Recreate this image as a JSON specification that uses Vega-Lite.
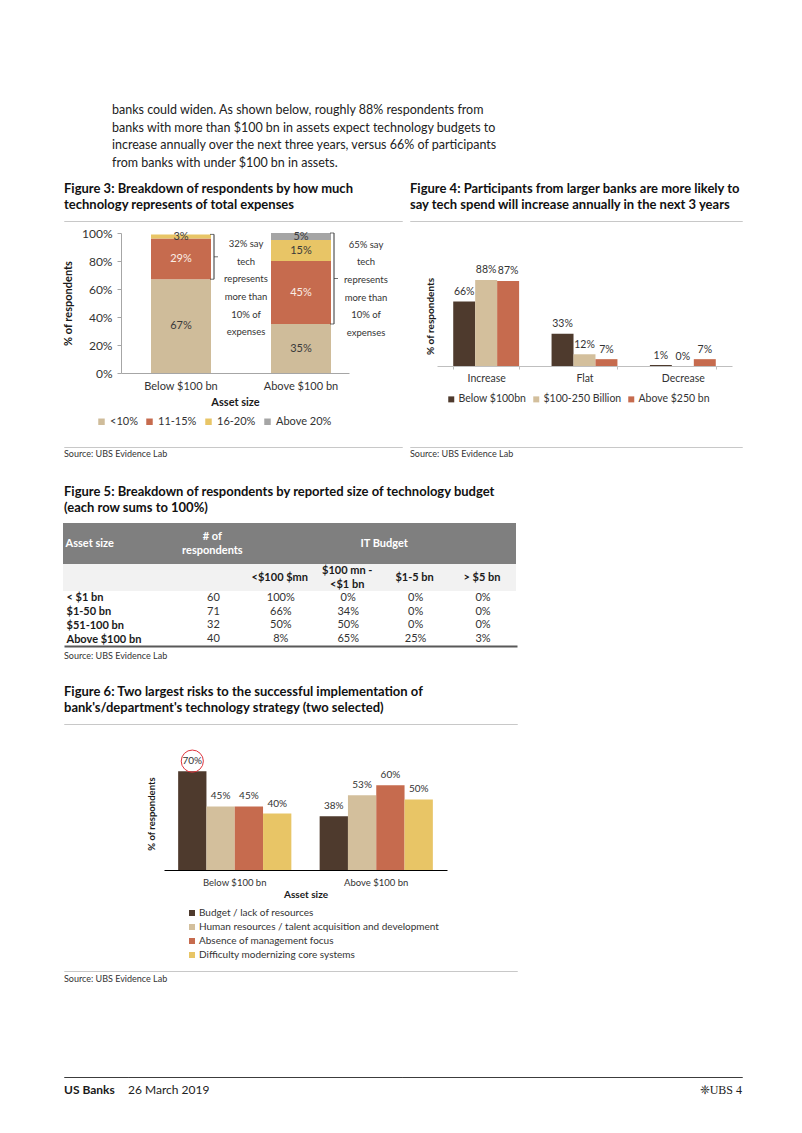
{
  "$schema": "https://vega.github.io/schema/vega-lite/v6.json",
  "background": "white",
  "padding": {"left": 62, "top": 0, "right": 20, "bottom": 20},
  "spacing": 0,
  "resolve": {"scale": {"color": "independent", "xOffset": "independent"}, "legend": {"color": "independent"}},
  "config": {
    "font": "Lato",
    "view": {"stroke": null},
    "axis": {"grid": false, "labelOverlap": false, "labelColor": "#333333", "titleColor": "#1a1a1a", "labelFont": "Lato", "titleFont": "Lato"},
    "legend": {"labelFont": "Lato", "labelColor": "#333333"},
    "title": {"font": "Lato", "anchor": "start", "frame": "group", "color": "#111111"},
    "text": {"font": "Lato"}
  },
  "vconcat": [
    {"hconcat": [
      {"width": 0.01, "height": 176, "data": {"values": []}, "mark": "text"},
      {"width": 678, "height": 100, "data": {"values": []}, "mark": "text",
       "title": {"text": ["banks could widen. As shown below, roughly 88% respondents from", "banks with more than $100 bn in assets expect technology budgets to", "increase annually over the next three years, versus 66% of participants", "from banks with under $100 bn in assets."], "orient": "bottom", "offset": 3.9, "dx": 48, "fontSize": 12.5, "fontWeight": "normal", "lineHeight": 17.7, "color": "#222222"}}
    ], "spacing": 0, "bounds": "flush"},
    {"hconcat": [
      {"width": 0.01, "height": 44, "data": {"values": []}, "mark": "text"},
      {"width": 338, "height": 0.01, "data": {"values": []}, "mark": "text",
       "title": {"text": ["Figure 3: Breakdown of respondents by how much", "technology represents of total expenses"], "orient": "bottom", "offset": 6.6, "fontSize": 13, "fontWeight": "bold", "lineHeight": 16.8}},
      {"width": 8, "height": 0.01, "data": {"values": []}, "mark": "text"},
      {"width": 332, "height": 0.01, "data": {"values": []}, "mark": "text",
       "title": {"text": ["Figure 4: Participants from larger banks are more likely to", "say tech spend will increase annually in the next 3 years"], "orient": "bottom", "offset": 6.6, "fontSize": 13, "fontWeight": "bold", "lineHeight": 16.8}}
    ], "spacing": 0, "bounds": "flush"},
    {"hconcat": [
      {"width": 0.01, "height": 6, "data": {"values": []}, "mark": "text"},
      {"width": 338, "height": 0.01, "data": {"values": []}, "mark": "text", "view": {"stroke": "#c8c8c8", "strokeWidth": 1}},
      {"width": 8, "height": 0.01, "data": {"values": []}, "mark": "text"},
      {"width": 332, "height": 0.01, "data": {"values": []}, "mark": "text", "view": {"stroke": "#c8c8c8", "strokeWidth": 1}}
    ], "spacing": 0, "bounds": "flush"},
    {"hconcat": [
      {"width": 0.01, "height": 213, "data": {"values": []}, "mark": "text"},
      {"width": 57, "height": 0.01, "data": {"values": []}, "mark": "text"},
      {
        "width": 228, "height": 140,
        "data": {"values": [
          {"asset": "Below $100 bn", "share": "<10%", "pct": 0.67},
          {"asset": "Below $100 bn", "share": "11-15%", "pct": 0.29},
          {"asset": "Below $100 bn", "share": "16-20%", "pct": 0.03},
          {"asset": "Above $100 bn", "share": "<10%", "pct": 0.35},
          {"asset": "Above $100 bn", "share": "11-15%", "pct": 0.45},
          {"asset": "Above $100 bn", "share": "16-20%", "pct": 0.15},
          {"asset": "Above $100 bn", "share": "Above 20%", "pct": 0.05}
        ]},
        "resolve": {"scale": {"color": "independent"}, "legend": {"color": "independent"}},
        "layer": [
          {
            "transform": [{"window": [{"op": "row_number", "as": "rn"}]}],
            "mark": {"type": "bar"},
            "encoding": {
              "x": {"field": "asset", "type": "nominal", "sort": ["Below $100 bn", "Above $100 bn"], "scale": {"paddingInner": 0.5, "paddingOuter": 0.2, "align": 0.625},
                    "axis": {"title": "Asset size", "labelAngle": 0, "ticks": false, "domainColor": "#a6a6a6", "labelFontSize": 11, "labelPadding": 7, "titleFontSize": 11, "titleFontWeight": "bold", "titlePadding": 5}},
              "y": {"field": "pct", "type": "quantitative", "stack": "zero", "scale": {"domain": [0, 1]},
                    "axis": {"values": [0, 0.2, 0.4, 0.6, 0.8, 1], "tickCount": 12, "format": ".0%", "labelOverlap": false, "domainColor": "#a6a6a6", "tickColor": "#a6a6a6", "tickSize": 4, "labelFontSize": 12, "labelPadding": 5, "title": "% of respondents", "titleFontSize": 11, "titleFontWeight": "bold", "titlePadding": 8}},
              "order": {"field": "rn", "type": "quantitative"},
              "color": {"field": "share", "type": "nominal", "sort": ["<10%", "11-15%", "16-20%", "Above 20%"],
                        "scale": {"domain": ["<10%", "11-15%", "16-20%", "Above 20%"], "range": ["#cfbc9a", "#c66b4e", "#e8c566", "#a5a5a5"]},
                        "legend": {"orient": "none", "legendX": -25, "legendY": 183, "direction": "horizontal", "title": null, "symbolType": "square", "symbolSize": 42, "symbolStrokeWidth": 0, "labelFontSize": 11, "labelOffset": 3, "columnPadding": 6}}
            }
          },
          {
            "transform": [{"window": [{"op": "row_number", "as": "rn"}]}],
            "mark": {"type": "text", "fontSize": 11, "baseline": "middle"},
            "encoding": {
              "x": {"field": "asset", "type": "nominal", "sort": ["Below $100 bn", "Above $100 bn"]},
              "y": {"field": "pct", "type": "quantitative", "stack": "zero", "bandPosition": 0.5},
              "order": {"field": "rn", "type": "quantitative"},
              "color": {"field": "share", "type": "nominal", "sort": ["<10%", "11-15%", "16-20%", "Above 20%"],
                        "scale": {"domain": ["<10%", "11-15%", "16-20%", "Above 20%"], "range": ["#3a3a3a", "#fbeee6", "#3a3a3a", "#3a3a3a"]}, "legend": null},
              "text": {"field": "pct", "type": "quantitative", "format": ".0%"}
            }
          },
          {
            "data": {"values": [
              {"asset": "Below $100 bn", "lo": 0.67, "hi": 0.99, "mid": 0.83, "ny": 0.92, "note": ["32% say", "tech", "represents", "more than", "10% of", "expenses"]},
              {"asset": "Above $100 bn", "lo": 0.35, "hi": 1.0, "mid": 0.675, "ny": 0.915, "note": ["65% say", "tech", "represents", "more than", "10% of", "expenses"]}
            ]},
            "layer": [
              {"mark": {"type": "rule", "xOffset": 3, "color": "#333333", "strokeWidth": 1},
               "encoding": {"x": {"field": "asset", "type": "nominal", "sort": ["Below $100 bn", "Above $100 bn"], "bandPosition": 1}, "y": {"field": "lo", "type": "quantitative"}, "y2": {"field": "hi"}}},
              {"mark": {"type": "tick", "orient": "horizontal", "size": 4, "thickness": 1, "xOffset": 31, "color": "#333333"},
               "encoding": {"x": {"field": "asset", "type": "nominal", "sort": ["Below $100 bn", "Above $100 bn"]}, "y": {"field": "lo", "type": "quantitative"}}},
              {"mark": {"type": "tick", "orient": "horizontal", "size": 4, "thickness": 1, "xOffset": 31, "color": "#333333"},
               "encoding": {"x": {"field": "asset", "type": "nominal", "sort": ["Below $100 bn", "Above $100 bn"]}, "y": {"field": "hi", "type": "quantitative"}}},
              {"mark": {"type": "tick", "orient": "horizontal", "size": 4, "thickness": 1, "xOffset": 35, "color": "#333333"},
               "encoding": {"x": {"field": "asset", "type": "nominal", "sort": ["Below $100 bn", "Above $100 bn"]}, "y": {"field": "mid", "type": "quantitative"}}},
              {"mark": {"type": "text", "xOffset": 35, "fontSize": 9.5, "lineHeight": 17.6, "color": "#333333", "baseline": "middle"},
               "encoding": {"x": {"field": "asset", "type": "nominal", "sort": ["Below $100 bn", "Above $100 bn"], "bandPosition": 1}, "y": {"field": "ny", "type": "quantitative"}, "text": {"field": "note"}}}
            ]
          }
        ]
      },
      {"width": 88, "height": 0.01, "data": {"values": []}, "mark": "text"},
      {
        "width": 295, "height": 133,
        "data": {"values": [
          {"cat": "Increase", "grp": "Below $100bn", "pct": 0.66},
          {"cat": "Increase", "grp": "$100-250 Billion", "pct": 0.88},
          {"cat": "Increase", "grp": "Above $250 bn", "pct": 0.87},
          {"cat": "Flat", "grp": "Below $100bn", "pct": 0.33},
          {"cat": "Flat", "grp": "$100-250 Billion", "pct": 0.12},
          {"cat": "Flat", "grp": "Above $250 bn", "pct": 0.07},
          {"cat": "Decrease", "grp": "Below $100bn", "pct": 0.01},
          {"cat": "Decrease", "grp": "$100-250 Billion", "pct": 0.0},
          {"cat": "Decrease", "grp": "Above $250 bn", "pct": 0.07}
        ]},
        "resolve": {"scale": {"color": "independent"}, "legend": {"color": "independent"}},
        "encoding": {
          "x": {"field": "cat", "type": "nominal", "sort": ["Increase", "Flat", "Decrease"], "scale": {"paddingInner": 0.33, "paddingOuter": 0.165},
                "axis": {"title": null, "labelAngle": 0, "domainColor": "#bfbfbf", "tickColor": "#bfbfbf", "tickBand": "extent", "tickSize": 3, "labelFontSize": 10.5, "labelPadding": 4}},
          "xOffset": {"field": "grp", "type": "nominal", "sort": ["Below $100bn", "$100-250 Billion", "Above $250 bn"], "scale": {"domain": ["Below $100bn", "$100-250 Billion", "Above $250 bn"], "paddingInner": 0, "paddingOuter": 0}},
          "y": {"field": "pct", "type": "quantitative", "scale": {"domain": [0, 1.36]},
                "axis": {"title": "% of respondents", "labels": false, "ticks": false, "domain": false, "titleFontSize": 10, "titleFontWeight": "bold", "titleX": -2, "titleY": 83}}
        },
        "layer": [
          {"mark": {"type": "bar"},
           "encoding": {"color": {"field": "grp", "type": "nominal", "sort": ["Below $100bn", "$100-250 Billion", "Above $250 bn"],
             "scale": {"domain": ["Below $100bn", "$100-250 Billion", "Above $250 bn"], "range": ["#4e3a2d", "#d3bf9c", "#c66b4e"]},
             "legend": {"orient": "none", "legendX": 9, "legendY": 161, "direction": "horizontal", "title": null, "symbolType": "square", "symbolSize": 36, "symbolStrokeWidth": 0, "labelFontSize": 10.5, "labelOffset": 2, "columnPadding": 4}}}},
          {"mark": {"type": "text", "baseline": "bottom", "dy": -4.5, "fontSize": 10.5, "color": "#333333"},
           "encoding": {"text": {"field": "pct", "type": "quantitative", "format": ".0%"}}}
        ]
      }
    ], "spacing": 0, "bounds": "flush", "resolve": {"scale": {"color": "independent", "xOffset": "independent"}, "legend": {"color": "independent"}}},
    {"hconcat": [
      {"width": 0.01, "height": 34, "data": {"values": []}, "mark": "text"},
      {"width": 338, "height": 0.01, "data": {"values": []}, "mark": "text", "view": {"stroke": "#c8c8c8", "strokeWidth": 1},
       "title": {"text": "Source:  UBS Evidence Lab", "orient": "bottom", "offset": 3.1, "fontSize": 9, "fontWeight": "normal", "color": "#333333"}},
      {"width": 8, "height": 0.01, "data": {"values": []}, "mark": "text"},
      {"width": 332, "height": 0.01, "data": {"values": []}, "mark": "text", "view": {"stroke": "#c8c8c8", "strokeWidth": 1},
       "title": {"text": "Source:  UBS Evidence Lab", "orient": "bottom", "offset": 3.1, "fontSize": 9, "fontWeight": "normal", "color": "#333333"}}
    ], "spacing": 0, "bounds": "flush"},
    {"hconcat": [
      {"width": 0.01, "height": 42, "data": {"values": []}, "mark": "text"},
      {"width": 453, "height": 0.01, "data": {"values": []}, "mark": "text",
       "title": {"text": ["Figure 5: Breakdown of respondents by reported size of technology budget", "(each row sums to 100%)"], "orient": "bottom", "offset": 5.3, "fontSize": 13, "fontWeight": "bold", "lineHeight": 15.5}}
    ], "spacing": 0, "bounds": "flush"},
    {
      "width": 453, "height": 41,
      "view": {"fill": "#7f7f7f", "stroke": null},
      "data": {"values": [{"h": "Asset size"}]},
      "encoding": {"y": {"field": "h", "type": "nominal", "scale": {"paddingInner": 0, "paddingOuter": 0},
        "axis": {"orient": "left", "labelAlign": "left", "labelPadding": -2, "tickSize": 0, "ticks": false, "domain": false, "title": null, "labelColor": "#ffffff", "labelFontWeight": "bold", "labelFontSize": 11}}},
      "layer": [
        {"mark": {"type": "text", "text": ["# of", "respondents"], "fontWeight": "bold", "color": "#ffffff", "fontSize": 11, "lineHeight": 14, "baseline": "middle", "dy": -7},
         "encoding": {"x": {"datum": "# of respondents", "type": "nominal", "scale": {"type": "point", "domain": ["Asset size", "# of respondents", "<$100 $mn", "$100 mn - <$1 bn", "$1-5 bn", "> $5 bn"], "padding": 0.86, "align": 0.707}, "axis": null}}},
        {"mark": {"type": "text", "text": "IT Budget", "dx": 37, "fontWeight": "bold", "color": "#ffffff", "fontSize": 11, "baseline": "middle"},
         "encoding": {"x": {"datum": "$100 mn - <$1 bn", "type": "nominal", "scale": {"type": "point", "domain": ["Asset size", "# of respondents", "<$100 $mn", "$100 mn - <$1 bn", "$1-5 bn", "> $5 bn"], "padding": 0.86, "align": 0.707}, "axis": null}}}
      ]
    },
    {
      "width": 453, "height": 27,
      "view": {"fill": "#f2f2f2", "stroke": null},
      "data": {"values": [
        {"col": "<$100 $mn", "label": ["<$100 $mn"]},
        {"col": "$100 mn - <$1 bn", "label": ["$100 mn -", "<$1 bn"]},
        {"col": "$1-5 bn", "label": ["$1-5 bn"]},
        {"col": "> $5 bn", "label": ["> $5 bn"]}
      ]},
      "layer": [
        {"transform": [{"filter": {"field": "col", "equal": "$100 mn - <$1 bn"}}],
         "mark": {"type": "text", "fontWeight": "bold", "color": "#1a1a1a", "fontSize": 11, "lineHeight": 13.5, "baseline": "middle", "dy": -6.5},
         "encoding": {
           "x": {"field": "col", "type": "nominal", "scale": {"type": "point", "domain": ["Asset size", "# of respondents", "<$100 $mn", "$100 mn - <$1 bn", "$1-5 bn", "> $5 bn"], "padding": 0.86, "align": 0.707}, "axis": null},
           "text": {"field": "label"}}},
        {"transform": [{"filter": {"not": {"field": "col", "equal": "$100 mn - <$1 bn"}}}],
         "mark": {"type": "text", "fontWeight": "bold", "color": "#1a1a1a", "fontSize": 11, "baseline": "middle"},
         "encoding": {
           "x": {"field": "col", "type": "nominal", "scale": {"type": "point", "domain": ["Asset size", "# of respondents", "<$100 $mn", "$100 mn - <$1 bn", "$1-5 bn", "> $5 bn"], "padding": 0.86, "align": 0.707}, "axis": null},
           "text": {"field": "label"}}}
      ]
    },
    {"hconcat": [
      {"width": 0.01, "height": 90, "data": {"values": []}, "mark": "text"},
      {
        "width": 453, "height": 55,
        "data": {"values": [
          {"asset": "< $1 bn", "n": 60, "<$100 $mn": 1.0, "$100 mn - <$1 bn": 0.0, "$1-5 bn": 0.0, "> $5 bn": 0.0},
          {"asset": "$1-50 bn", "n": 71, "<$100 $mn": 0.66, "$100 mn - <$1 bn": 0.34, "$1-5 bn": 0.0, "> $5 bn": 0.0},
          {"asset": "$51-100 bn", "n": 32, "<$100 $mn": 0.5, "$100 mn - <$1 bn": 0.5, "$1-5 bn": 0.0, "> $5 bn": 0.0},
          {"asset": "Above $100 bn", "n": 40, "<$100 $mn": 0.08, "$100 mn - <$1 bn": 0.65, "$1-5 bn": 0.25, "> $5 bn": 0.03}
        ]},
        "title": {"text": "Source: UBS Evidence Lab", "orient": "bottom", "offset": 5.6, "fontSize": 9, "fontWeight": "normal", "color": "#333333"},
        "encoding": {"y": {"field": "asset", "type": "nominal", "sort": ["< $1 bn", "$1-50 bn", "$51-100 bn", "Above $100 bn"], "scale": {"paddingInner": 0, "paddingOuter": 0},
          "axis": {"orient": "left", "labelAlign": "left", "labelPadding": -2, "tickSize": 0, "ticks": false, "domain": false, "title": null, "labelColor": "#1a1a1a", "labelFontWeight": "bold", "labelFontSize": 11}}},
        "layer": [
          {"transform": [{"fold": ["<$100 $mn", "$100 mn - <$1 bn", "$1-5 bn", "> $5 bn"], "as": ["col", "v"]}],
           "mark": {"type": "text", "fontSize": 11, "color": "#333333", "baseline": "middle"},
           "encoding": {
             "x": {"field": "col", "type": "nominal", "scale": {"type": "point", "domain": ["Asset size", "# of respondents", "<$100 $mn", "$100 mn - <$1 bn", "$1-5 bn", "> $5 bn"], "padding": 0.86, "align": 0.707},
                   "axis": {"orient": "bottom", "labels": false, "ticks": false, "domainColor": "#595959", "domainWidth": 2, "title": null}},
             "text": {"field": "v", "type": "quantitative", "format": ".0%"}}},
          {"mark": {"type": "text", "fontSize": 11, "color": "#333333", "baseline": "middle"},
           "encoding": {
             "x": {"datum": "# of respondents", "type": "nominal", "scale": {"type": "point", "domain": ["Asset size", "# of respondents", "<$100 $mn", "$100 mn - <$1 bn", "$1-5 bn", "> $5 bn"], "padding": 0.86, "align": 0.707}},
             "text": {"field": "n", "type": "quantitative"}}}
        ]
      }
    ], "spacing": 0, "bounds": "flush"},
    {"hconcat": [
      {"width": 0.01, "height": 42, "data": {"values": []}, "mark": "text"},
      {"width": 453, "height": 0.01, "data": {"values": []}, "mark": "text",
       "title": {"text": ["Figure 6: Two largest risks to the successful implementation of", "bank's/department's technology strategy (two selected)"], "orient": "bottom", "offset": 5.3, "fontSize": 13, "fontWeight": "bold", "lineHeight": 16}}
    ], "spacing": 0, "bounds": "flush"},
    {"hconcat": [
      {"width": 0.01, "height": 24, "data": {"values": []}, "mark": "text"},
      {"width": 453, "height": 0.01, "data": {"values": []}, "mark": "text", "view": {"stroke": "#c8c8c8", "strokeWidth": 1}}
    ], "spacing": 0, "bounds": "flush"},
    {"hconcat": [
      {"width": 0.01, "height": 213, "data": {"values": []}, "mark": "text"},
      {"width": 100, "height": 0.01, "data": {"values": []}, "mark": "text"},
      {
        "width": 283, "height": 113,
        "data": {"values": [
          {"asset": "Below $100 bn", "risk": "Budget / lack of resources", "pct": 0.70},
          {"asset": "Below $100 bn", "risk": "Human resources / talent acquisition and development", "pct": 0.45},
          {"asset": "Below $100 bn", "risk": "Absence of management focus", "pct": 0.45},
          {"asset": "Below $100 bn", "risk": "Difficulty modernizing core systems", "pct": 0.40},
          {"asset": "Above $100 bn", "risk": "Budget / lack of resources", "pct": 0.38},
          {"asset": "Above $100 bn", "risk": "Human resources / talent acquisition and development", "pct": 0.53},
          {"asset": "Above $100 bn", "risk": "Absence of management focus", "pct": 0.60},
          {"asset": "Above $100 bn", "risk": "Difficulty modernizing core systems", "pct": 0.50}
        ]},
        "resolve": {"scale": {"color": "independent"}, "legend": {"color": "independent"}},
        "encoding": {
          "x": {"field": "asset", "type": "nominal", "sort": ["Below $100 bn", "Above $100 bn"], "scale": {"paddingInner": 0.2, "paddingOuter": 0.1},
                "axis": {"title": "Asset size", "labelAngle": 0, "ticks": false, "domainColor": "#000000", "labelFontSize": 9.5, "labelPadding": 7, "titleFontSize": 10, "titleFontWeight": "bold", "titlePadding": 3}},
          "xOffset": {"field": "risk", "type": "nominal", "sort": ["Budget / lack of resources", "Human resources / talent acquisition and development", "Absence of management focus", "Difficulty modernizing core systems"], "scale": {"domain": ["Budget / lack of resources", "Human resources / talent acquisition and development", "Absence of management focus", "Difficulty modernizing core systems"], "paddingInner": 0, "paddingOuter": 0}},
          "y": {"field": "pct", "type": "quantitative", "scale": {"domain": [0, 0.8]},
                "axis": {"title": "% of respondents", "labels": false, "ticks": false, "domain": false, "titleFontSize": 9.5, "titleFontWeight": "bold", "titlePadding": 8}}
        },
        "layer": [
          {"mark": {"type": "bar"},
           "encoding": {"color": {"field": "risk", "type": "nominal", "sort": ["Budget / lack of resources", "Human resources / talent acquisition and development", "Absence of management focus", "Difficulty modernizing core systems"],
             "scale": {"domain": ["Budget / lack of resources", "Human resources / talent acquisition and development", "Absence of management focus", "Difficulty modernizing core systems"], "range": ["#4e3a2d", "#d3bf9c", "#c66b4e", "#e8c566"]},
             "legend": {"orient": "none", "legendX": 23, "legendY": 151, "direction": "vertical", "title": null, "symbolType": "square", "symbolSize": 36, "symbolStrokeWidth": 0, "labelFontSize": 10, "labelOffset": 2, "rowPadding": 4, "labelLimit": 400}}}},
          {"mark": {"type": "text", "baseline": "bottom", "dy": -5, "fontSize": 10, "color": "#333333"},
           "encoding": {"text": {"field": "pct", "type": "quantitative", "format": ".0%"}}},
          {"transform": [{"filter": {"and": [{"field": "asset", "equal": "Below $100 bn"}, {"field": "risk", "equal": "Budget / lack of resources"}]}}],
           "mark": {"type": "point", "shape": "circle", "size": 490, "filled": false, "color": "#e0353d", "strokeWidth": 1, "opacity": 1, "yOffset": -10}}
        ]
      }
    ], "spacing": 0, "bounds": "flush", "resolve": {"scale": {"color": "independent", "xOffset": "independent"}, "legend": {"color": "independent"}}},
    {"hconcat": [
      {"width": 0.01, "height": 105, "data": {"values": []}, "mark": "text"},
      {"width": 453, "height": 0.01, "data": {"values": []}, "mark": "text", "view": {"stroke": "#c8c8c8", "strokeWidth": 1},
       "title": {"text": "Source: UBS Evidence Lab", "orient": "bottom", "offset": 3.7, "fontSize": 9, "fontWeight": "normal", "color": "#333333"}}
    ], "spacing": 0, "bounds": "flush"},
    {"hconcat": [
      {"width": 0.01, "height": 30, "data": {"values": []}, "mark": "text"},
      {"width": 64, "height": 0.01, "data": {"values": []}, "mark": "text", "view": {"stroke": "#3c3c3c", "strokeWidth": 1},
       "title": {"text": "US Banks", "orient": "bottom", "offset": 7.7, "fontSize": 12, "fontWeight": "bold", "color": "#1a1a1a"}},
      {"width": 274, "height": 0.01, "data": {"values": []}, "mark": "text", "view": {"stroke": "#3c3c3c", "strokeWidth": 1},
       "title": {"text": "26 March 2019", "orient": "bottom", "offset": 7.7, "fontSize": 12, "fontWeight": "normal", "color": "#222222"}},
      {"width": 340, "height": 0.01, "data": {"values": []}, "mark": "text", "view": {"stroke": "#3c3c3c", "strokeWidth": 1},
       "title": {"text": "❈UBS  4", "orient": "bottom", "anchor": "end", "offset": 7.7, "fontSize": 12, "fontWeight": "normal", "font": "Liberation Serif", "color": "#222222"}}
    ], "spacing": 0, "bounds": "flush"}
  ]
}
